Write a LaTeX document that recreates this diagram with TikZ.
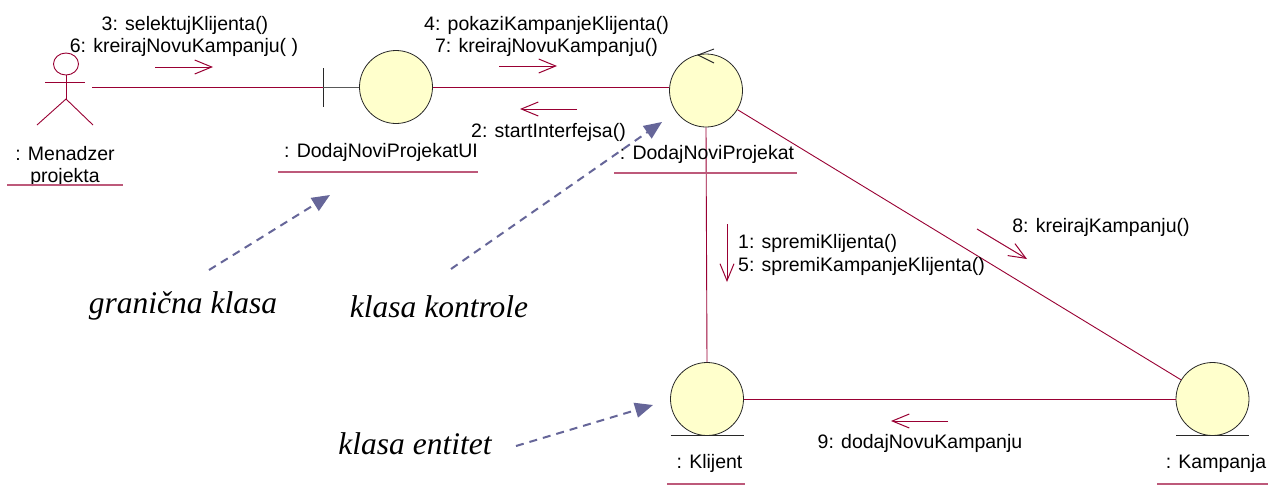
\documentclass[tikz,border=0pt]{standalone}
\usepackage{fontspec}
\setmainfont{Liberation Sans}
\newfontfamily\tms{Liberation Serif}
\usetikzlibrary{arrows.meta}
\definecolor{linec}{RGB}{153,0,51}
\definecolor{fillc}{RGB}{255,255,204}
\definecolor{dashc}{RGB}{102,102,153}
\definecolor{outc}{RGB}{40,40,40}
\begin{document}
\begin{tikzpicture}[x=1pt,y=-1pt,
 obj/.style={circle,draw=outc,line width=0.8pt,fill=fillc,minimum size=73pt,inner sep=0pt},
 link/.style={draw=linec,line width=0.9pt},
 msg/.style={draw=linec,line width=1pt,-{Straight Barb[length=17pt,width=14pt,line width=1pt]}},
 ul/.style={draw=linec!65,line width=1.5pt},
 outl/.style={draw=outc,line width=0.9pt},
 lbl/.style={font=\fontsize{19.5}{22}\selectfont,inner sep=0pt,anchor=base},
 lblw/.style={font=\fontsize{19.5}{22}\selectfont,inner sep=0pt,anchor=base west},
 note/.style={font=\tms\itshape\fontsize{31.5}{36}\selectfont,inner sep=0pt,anchor=base},
 hint/.style={draw=dashc,line width=2pt,dash pattern=on 8pt off 6pt,-{Triangle[length=18pt,width=15pt]}}
]
\useasboundingbox (0,0) rectangle (1278,485);
\fill[white] (0,0) rectangle (1278,485);

% actor
\draw[link] (66,64) ellipse (12.5 and 11);
\draw[link] (45,82) -- (85,82);
\draw[link] (66,75) -- (66,99);
\draw[link] (37,125) -- (66,99) -- (93,125);
\coordinate (act) at (92,87);
\node[lbl] (actl1) at (65,160) {: Menadzer};
\node[lbl] (actl2) at (65,182) {projekta};
\draw[ul] (7,185) -- (123,185);

% objects
\node[obj] (ui) at (396,87) {};
\node[obj] (ctl) at (706,90.5) {};
\node[obj] (kli) at (707,399) {};
\node[obj] (kam) at (1212.5,399) {};

% boundary bar
\coordinate (bar) at (323,87);
\draw[outl] (323,68) -- (323,107);
\draw[draw=gray!70!black,line width=1pt] (bar) -- (ui.west);

% control chevron
\draw[outl] (714,49) -- (698,55) -- (714,63);

% entity base lines
\draw[outl] ([xshift=-36.5pt]kli.south) -- ([xshift=36.5pt]kli.south);
\draw[outl] ([xshift=-36.5pt]kam.south) -- ([xshift=36.5pt]kam.south);

% links
\draw[link] (act) -- (bar);
\draw[link] (ui.east) -- (ctl.west |- ui.east);
\draw[link] (ctl.south) -- (kli.north);
\draw[link] (ctl) -- (kam);
\draw[link] (kli.east) -- (kam.west);

% object labels
\node[lbl] (uil) at (381,157) {: DodajNoviProjekatUI};
\draw[ul] (278,172) -- (478,172);
\node[lbl] (ctll) at (707,159) {: DodajNoviProjekat};
\draw[ul] (614,173) -- (797,173);
\node[lbl] (klil) at (709.5,468) {: Klijent};
\draw[ul] (667,484) -- (745,484);
\node[lbl] (kaml) at (1216,468) {: Kampanja};
\draw[ul] (1157,484) -- (1268,484);

% messages
\node[lbl] at (185,30) {3: selektujKlijenta()};
\node[lbl] at (184,52) {6: kreirajNovuKampanju( )};
\draw[msg] (155,67) -- (213,67);

\node[lbl] at (546.5,30) {4: pokaziKampanjeKlijenta()};
\node[lbl] at (546.5,52) {7: kreirajNovuKampanju()};
\draw[msg] (499,66) -- (557,66);

\draw[msg] (577,109) -- (520,109);
\node[lbl] at (548.5,137) {2: startInterfejsa()};

\draw[msg] (727,224) -- (727,282);
\node[lblw] at (738,248) {1: spremiKlijenta()};
\node[lblw] at (738,271) {5: spremiKampanjeKlijenta()};

\draw[msg] (977,229) -- (1027,259);
\node[lbl] at (1101,232) {8: kreirajKampanju()};

\draw[msg] (948,421) -- (891,421);
\node[lbl] at (920,448) {9: dodajNovuKampanju};

% notes
\node[note] (n1) at (183,313) {granična klasa};
\node[note] (n2) at (439,317) {klasa kontrole};
\node[note] (n3) at (415,454) {klasa entitet};
\coordinate (t1) at (330,195);
\coordinate (t2) at (662,122);
\coordinate (t3) at (653,405);
\draw[hint] (209,270) -- (t1);
\draw[hint] (451,269) -- (t2);
\draw[hint] (516,446) -- (t3);
\end{tikzpicture}
\end{document}
